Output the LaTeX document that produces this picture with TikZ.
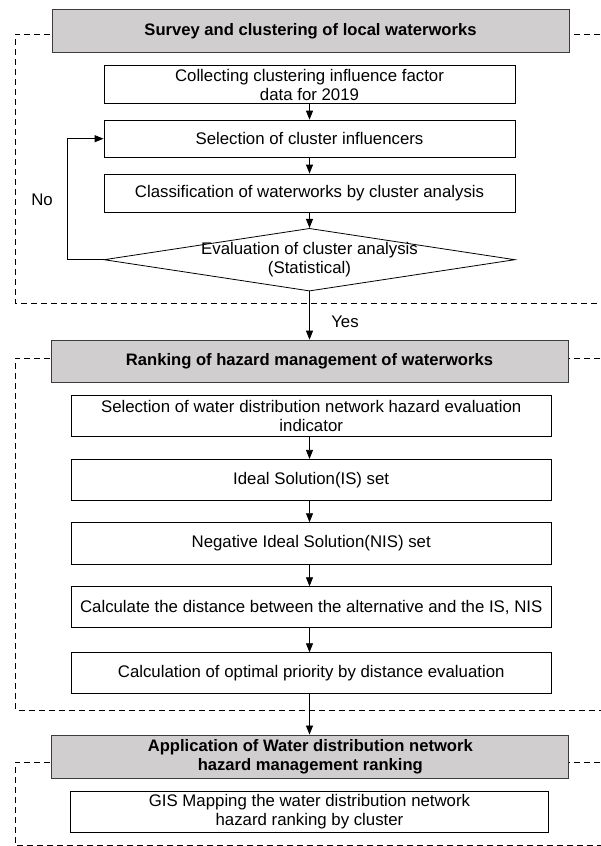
\documentclass[tikz,border=0pt]{standalone}
\usepackage{fontspec}
\setmainfont{Liberation Sans}
\usetikzlibrary{arrows.meta,shapes.geometric}
\definecolor{hdrfill}{RGB}{208,206,206}
\definecolor{hdrline}{RGB}{60,60,60}
\begin{document}
\begin{tikzpicture}[x=1pt,y=-1pt,
  font=\fontsize{16.8}{19}\selectfont,
  stepbox/.style={draw,line width=0.8pt,align=center,inner sep=0pt},
  hdrbox/.style={draw=hdrline,fill=hdrfill,line width=0.8pt,align=center,inner sep=0pt,font=\fontsize{16.6}{19}\selectfont\bfseries,minimum width=517pt},
  dashbox/.style={draw,line width=0.7pt,dash pattern=on 6pt off 4pt},
  arr/.style={-{Triangle[length=9pt,width=7pt]},line width=0.8pt},
  lbl/.style={inner sep=0pt}]
\useasboundingbox (0,0) rectangle (601,846);
\clip (0,0) rectangle (601,846);
% dashed group frames
\draw[dashbox] (640,34) -- (15.3,34) -- (15.3,303.3) -- (640,303.3);
\draw[dashbox] (640,358) -- (15.3,358) -- (15.3,710) -- (640,710);
\draw[dashbox] (640,762) -- (15.3,762) -- (15.3,845.3) -- (640,845.3);
% headers
\node[hdrbox,minimum height=43.4pt] (h1) at (310.5,31) {Survey and clustering of local waterworks};
\node[hdrbox,minimum height=42.3pt] (h2) at (309.5,361.2) {Ranking of hazard management of waterworks};
\node[hdrbox,minimum height=43.7pt] (h3) at (310.3,756.8) {Application of Water distribution network\\hazard management ranking};
% group 1
\node[stepbox,minimum width=411pt,minimum height=37.6pt] (collect) at (309.5,84.5) {Collecting clustering influence factor\\data for 2019};
\node[stepbox,minimum width=411pt,minimum height=37.3pt] (select) at (309.5,138.7) {Selection of cluster influencers};
\node[stepbox,minimum width=411pt,minimum height=38pt] (classif) at (309.5,193) {Classification of waterworks by cluster analysis};
\node[draw,diamond,line width=0.8pt,inner sep=0pt,minimum width=411pt,minimum height=62.7pt,shape aspect=6.5] (eval) at (309.5,259.7) {};
\node[lbl,align=center] (evaltext) at (309.5,260) {Evaluation of cluster analysis\\(Statistical)};
\coordinate (fbk) at (67.5,259.7);
\draw[arr] (collect.south) -- (select.north);
\draw[arr] (select.south) -- (classif.north);
\draw[arr] (classif.south) -- (eval.north);
\draw[arr] (eval.west) -- (fbk) |- (select.west);
\node[lbl] (no) at (42,200) {No};
% group 2
\node[stepbox,minimum width=479.7pt,minimum height=41pt] (sel2) at (311.2,416.2) {Selection of water distribution network hazard evaluation\\indicator};
\node[stepbox,minimum width=479.7pt,minimum height=41.4pt] (ideal) at (311.2,480) {Ideal Solution(IS) set};
\node[stepbox,minimum width=479.7pt,minimum height=41.3pt] (neg) at (311.2,543.3) {Negative Ideal Solution(NIS) set};
\node[stepbox,minimum width=479.7pt,minimum height=41pt] (calc) at (311.2,607.2) {Calculate the distance between the alternative and the IS, NIS};
\node[stepbox,minimum width=479.7pt,minimum height=41pt] (opt) at (311.2,673.2) {Calculation of optimal priority by distance evaluation};
\draw[arr] (eval.south) -- (eval.south |- h2.north);
\node[lbl] (yes) at (345,321.7) {Yes};
\draw[arr] (sel2.south -| eval.south) -- (eval.south |- ideal.north);
\draw[arr] (ideal.south -| eval.south) -- (eval.south |- neg.north);
\draw[arr] (neg.south -| eval.south) -- (eval.south |- calc.north);
\draw[arr] (calc.south -| eval.south) -- (eval.south |- opt.north);
\draw[arr] (opt.south -| eval.south) -- (eval.south |- h3.north);
% group 3
\node[stepbox,minimum width=478pt,minimum height=41.7pt] (gis) at (309.5,811.8) {GIS Mapping the water distribution network\\hazard ranking by cluster};
\end{tikzpicture}
\end{document}
